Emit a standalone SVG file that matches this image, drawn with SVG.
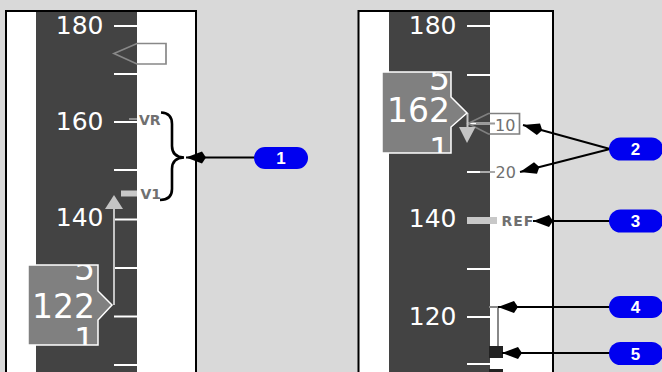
<svg xmlns="http://www.w3.org/2000/svg" width="662" height="372" viewBox="0 0 662 372">
<style>
.panel{fill:#fff;stroke:#000;stroke-width:2}
.tape{fill:#434343}
.tick{stroke:#fff;stroke-width:2}
.scale{font-family:"DejaVu Sans",sans-serif;font-size:25px;fill:#fff;text-anchor:end}
.box{fill:#808080;stroke:#fff;stroke-width:1.5}
.big{font-family:"DejaVu Sans",sans-serif;font-size:33px;fill:#fff;text-anchor:end}
.gl{font-family:"DejaVu Sans",sans-serif;fill:#707070}
.trend{fill:#c4c4c4}
.conn{stroke:#000;stroke-width:2;fill:none;marker-end:url(#ah)}
.pill{fill:#0000f0}
.pt{font-family:"Liberation Sans",Arial,sans-serif;font-weight:bold;font-size:17px;fill:#fff;text-anchor:middle}
</style>
<defs>
<marker id="ah" markerUnits="userSpaceOnUse" markerWidth="24" markerHeight="14" refX="21" refY="7" orient="auto" overflow="visible">
<path d="M21,7 L5,1 L1,7 L5,13 z" fill="#000"/>
</marker>
<clipPath id="cl"><path d="M28,265 H98 V291 L112,305 L98,320 V345 H28 z"/></clipPath>
<clipPath id="cr"><path d="M382,72 H451 V97 L467,113 L451,127 V153 H382 z"/></clipPath>
</defs>
<rect width="662" height="372" fill="#d9d9d9"/>

<g id="left-panel">
<rect class="panel" x="6" y="11" width="190" height="370"/>
<rect class="tape" x="36" y="12" width="101" height="360"/>
<g class="tick">
<line x1="114" y1="26" x2="137" y2="26"/>
<line x1="114" y1="74" x2="137" y2="74"/>
<line x1="114" y1="122" x2="137" y2="122"/>
<line x1="114" y1="170" x2="137" y2="170"/>
<line x1="114" y1="219.5" x2="137" y2="219.5"/>
<line x1="114" y1="268" x2="137" y2="268"/>
<line x1="114" y1="316.5" x2="137" y2="316.5"/>
<line x1="114" y1="365" x2="137" y2="365"/>
</g>
<text class="scale" x="103.5" y="34">180</text>
<text class="scale" x="103.5" y="130">160</text>
<text class="scale" x="103.5" y="226">140</text>
</g>

<g id="speed-bug-left">
<path d="M114,53.5 L137,43.5 H166 V64 H137 z" fill="none" stroke="#888" stroke-width="1.7"/>
</g>

<g id="vr">
<line x1="129" y1="119" x2="137" y2="119" stroke="#aaa" stroke-width="1.5"/>
<text class="gl" x="139" y="125" font-size="14" font-weight="bold">VR</text>
</g>
<g id="v1">
<rect x="121" y="190.5" width="16" height="6" fill="#c8c8c8"/>
<text class="gl" x="140.5" y="199" font-size="14" font-weight="bold">V1</text>
</g>

<g id="trend-left">
<line x1="114" y1="208" x2="114" y2="305" stroke="#c4c4c4" stroke-width="2"/>
<path class="trend" d="M114,195 L123,209 L105,209 z"/>
</g>

<g id="speed-box-left">
<path class="box" d="M28,265 H98 V291 L112,305 L98,320 V345 H28 z"/>
<g clip-path="url(#cl)">
<text class="big" x="95" y="280">5</text>
<text class="big" x="95" y="352">1</text>
</g>
<text class="big" x="95" y="318">122</text>
</g>

<g id="brace">
<path d="M161,112.5 Q172,113 172,124 L172,146 Q172,157 184,157.5 Q172,158 172,169 L172,189 Q172,200 160,200" fill="none" stroke="#000" stroke-width="2.6"/>
</g>

<g id="right-panel">
<rect class="panel" x="358.5" y="11" width="194.5" height="370"/>
<rect class="tape" x="389" y="12" width="101" height="360"/>
<g class="tick">
<line x1="467" y1="26" x2="490" y2="26"/>
<line x1="467" y1="75" x2="490" y2="75"/>
<line x1="467" y1="123.5" x2="490" y2="123.5"/>
<line x1="467" y1="172" x2="490" y2="172"/>
<line x1="467" y1="269" x2="490" y2="269"/>
<line x1="467" y1="317" x2="490" y2="317"/>
<line x1="467" y1="364" x2="490" y2="364"/>
</g>
<text class="scale" x="456.5" y="34">180</text>
<text class="scale" x="456.5" y="227">140</text>
<text class="scale" x="456.5" y="325">120</text>
</g>

<g id="flap-10">
<line x1="476" y1="123.5" x2="495" y2="123.5" stroke="#999" stroke-width="2"/>
<path d="M468,123.5 L488.5,113.5 H519.5 V134 H488.5 z" fill="none" stroke="#808080" stroke-width="1.7"/>
<text class="gl" x="495" y="131" font-size="16">10</text>
</g>
<g id="flap-20">
<line x1="480" y1="172" x2="495" y2="172" stroke="#aaa" stroke-width="2"/>
<text class="gl" x="495.5" y="177.5" font-size="16">20</text>
</g>
<g id="ref">
<rect x="467" y="217" width="30" height="7" fill="#c8c8c8"/>
<text class="gl" x="501.5" y="225.5" font-size="14" font-weight="bold" letter-spacing="1">REF</text>
</g>

<g id="trend-right">
<line x1="467.5" y1="113" x2="467.5" y2="128" stroke="#c4c4c4" stroke-width="2"/>
<path class="trend" d="M459,127 L475.5,127 L467,143 z"/>
</g>

<g id="speed-box-right">
<path class="box" d="M382,72 H451 V97 L467,113 L451,127 V153 H382 z"/>
<g clip-path="url(#cr)">
<text class="big" x="450" y="90">5</text>
<text class="big" x="450" y="162">1</text>
</g>
<text class="big" x="450" y="122">162</text>
</g>

<g id="bottom-markers">
<path d="M489,307 H498 V346" fill="none" stroke="#888" stroke-width="2"/>
<rect x="489" y="346" width="14" height="12" fill="#222"/>
<rect x="489" y="369" width="14" height="5" fill="#222"/>
</g>

<g id="connectors">
<line class="conn" x1="256" y1="157.5" x2="186" y2="157.5"/>
<line class="conn" x1="610" y1="149" x2="523" y2="125"/>
<line class="conn" x1="610" y1="149" x2="520" y2="172"/>
<line class="conn" x1="610" y1="221" x2="533" y2="221"/>
<line class="conn" x1="610" y1="307" x2="498" y2="307"/>
<line class="conn" x1="610" y1="353" x2="502" y2="353"/>
</g>

<g id="callout-1"><rect class="pill" x="254" y="147" width="54" height="22" rx="11"/><text class="pt" x="281" y="164">1</text></g>
<g id="callout-2"><rect class="pill" x="609" y="137.5" width="54" height="23" rx="11.5"/><text class="pt" x="635.5" y="155">2</text></g>
<g id="callout-3"><rect class="pill" x="609" y="209.5" width="54" height="23" rx="11.5"/><text class="pt" x="635.5" y="227">3</text></g>
<g id="callout-4"><rect class="pill" x="609" y="296" width="54" height="22" rx="11"/><text class="pt" x="635.5" y="313">4</text></g>
<g id="callout-5"><rect class="pill" x="609" y="342" width="54" height="23" rx="11.5"/><text class="pt" x="635.5" y="359.5">5</text></g>
</svg>
